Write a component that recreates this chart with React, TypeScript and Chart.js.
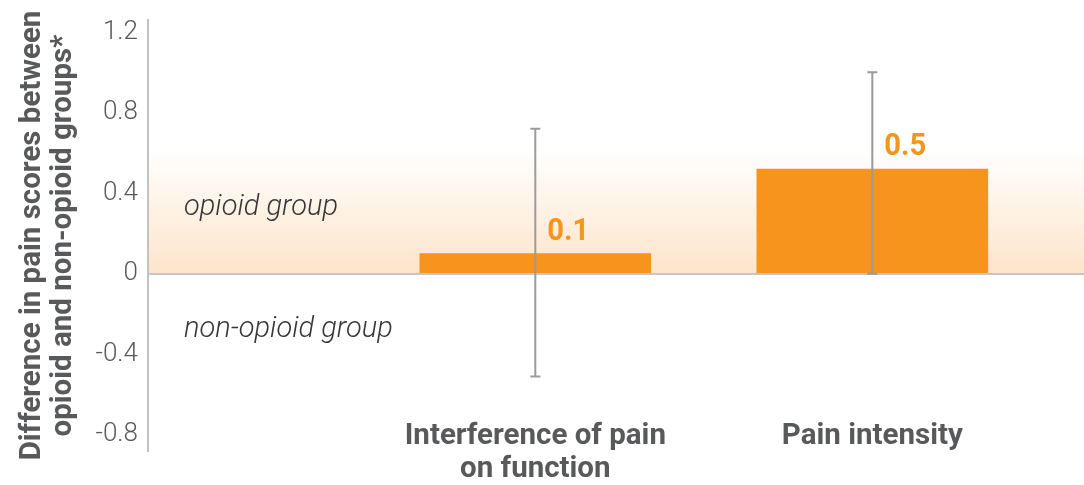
import React, { useEffect, useRef } from "react";
import { Chart, registerables } from "chart.js";

Chart.register(...registerables);

// ---- data ----
const categories: string[][] = [["Interference of pain", "on function"], ["Pain intensity"]];
const categoryPositions = [1, 2];
const meanDifference = [0.1, 0.52];
const ciLower = [-0.51, 0.0];
const ciUpper = [0.72, 1.0];
const yTicks = [-0.8, -0.4, 0, 0.4, 0.8, 1.2];
const regionLabels = ["opioid group", "non-opioid group"];
const regionLabelValues = [0.33, -0.28];
const yTitle = ["Difference in pain scores between", "opioid and non-opioid groups*"];

const ORANGE = "#f7941d";
const TEXT_GRAY = "#58595b";

export default function App() {
  const ref = useRef<HTMLCanvasElement | null>(null);

  useEffect(() => {
    const canvas = ref.current;
    if (!canvas) return;

    const bandPlugin = {
      id: "band",
      beforeDraw(chart: any) {
        const { ctx, chartArea, scales } = chart;
        const y = scales.y;
        const top = y.getPixelForValue(0.62);
        const bottom = y.getPixelForValue(0);
        const g = ctx.createLinearGradient(0, top, 0, bottom);
        g.addColorStop(0, "rgba(253,228,202,0)");
        g.addColorStop(1, "rgba(253,228,202,1)");
        ctx.save();
        ctx.fillStyle = g;
        ctx.fillRect(chartArea.left, top, chartArea.right - chartArea.left, bottom - top);
        ctx.restore();
      },
    };

    const overlayPlugin = {
      id: "overlay",
      afterDatasetsDraw(chart: any) {
        const { ctx, chartArea, scales } = chart;
        const y = scales.y;
        const x = scales.x;
        const meta = chart.getDatasetMeta(0);
        ctx.save();
        // region labels
        ctx.font = "italic 300 29px Roboto";
        ctx.fillStyle = "#363636";
        ctx.textAlign = "left";
        ctx.textBaseline = "middle";
        regionLabels.forEach((t, i) => {
          ctx.fillText(t, chartArea.left + 36, y.getPixelForValue(regionLabelValues[i]));
        });
        // error bars
        ctx.strokeStyle = "#9b9b9b";
        ctx.lineWidth = 2;
        meta.data.forEach((bar: any, i: number) => {
          const bx = bar.x;
          const yl = y.getPixelForValue(ciLower[i]);
          const yh = y.getPixelForValue(ciUpper[i]);
          ctx.beginPath();
          ctx.moveTo(bx, yl);
          ctx.lineTo(bx, yh);
          ctx.moveTo(bx - 5, yl);
          ctx.lineTo(bx + 5, yl);
          ctx.moveTo(bx - 5, yh);
          ctx.lineTo(bx + 5, yh);
          ctx.stroke();
        });
        // value labels
        ctx.fillStyle = ORANGE;
        ctx.font = "bold 31px Roboto";
        ctx.textBaseline = "alphabetic";
        meta.data.forEach((bar: any, i: number) => {
          ctx.save();
          ctx.translate(bar.x + 12, bar.y - 14);
          ctx.scale(0.94, 1);
          ctx.fillText(meanDifference[i].toFixed(1), 0, 0);
          ctx.restore();
        });
        // category labels (drawn over the lower part of the plot, as in the original)
        ctx.fillStyle = TEXT_GRAY;
        ctx.font = "bold 29.5px Roboto";
        ctx.textAlign = "center";
        ctx.textBaseline = "middle";
        categories.forEach((lines, i) => {
          const cx = x.getPixelForValue(categoryPositions[i]);
          lines.forEach((line, j) => {
            ctx.fillText(line, cx, chartArea.bottom - 14 + j * 33);
          });
        });
        ctx.restore();
      },
    };

    const chart = new Chart(canvas, {
      type: "bar",
      data: {
        datasets: [
          {
            data: categoryPositions.map((x, i) => ({ x, y: meanDifference[i] })),
            backgroundColor: ORANGE,
            borderWidth: 0,
            barThickness: 231,
          },
        ],
      },
      options: {
        responsive: false,
        animation: false,
        layout: { padding: { top: 20, right: 0, bottom: 0, left: 0 } },
        plugins: {
          legend: { display: false },
          tooltip: { enabled: false },
        },
        scales: {
          x: {
            type: "linear",
            offset: false,
            min: -0.1493,
            max: 2.6281,
            grid: { display: false, drawTicks: false },
            border: { display: false },
            ticks: { display: false },
            afterFit: (axis: any) => {
              axis.height = 34;
            },
          },
          y: {
            min: -0.88,
            max: 1.26,
            afterBuildTicks: (axis: any) => {
              axis.ticks = yTicks.map((v) => ({ value: v }));
            },
            afterFit: (axis: any) => {
              axis.width = 148;
            },
            grid: {
              drawTicks: false,
              lineWidth: 2,
              color: (c: any) => (c.tick && c.tick.value === 0 ? "#c6c6c6" : "rgba(0,0,0,0)"),
            },
            border: { display: true, color: "#c2c2c2", width: 2 },
            ticks: {
              padding: 10,
              color: TEXT_GRAY,
              font: { family: "Roboto", size: 26, weight: 300, lineHeight: 0.6 },
              callback: (v: any) => String(Number(v)),
            },
            title: {
              display: true,
              text: yTitle,
              color: TEXT_GRAY,
              font: { family: "Roboto", size: 29.5, weight: "bold", lineHeight: 1.05 },
              padding: { top: 17.5, bottom: 0 },
            },
          },
        },
      },
      plugins: [bandPlugin, overlayPlugin],
    } as any);

    return () => chart.destroy();
  }, []);

  return (
    <canvas
      ref={ref}
      width={1084}
      height={485}
      style={{ position: "absolute", left: 0, top: 0, width: 1084, height: 485, display: "block" }}
    />
  );
}
